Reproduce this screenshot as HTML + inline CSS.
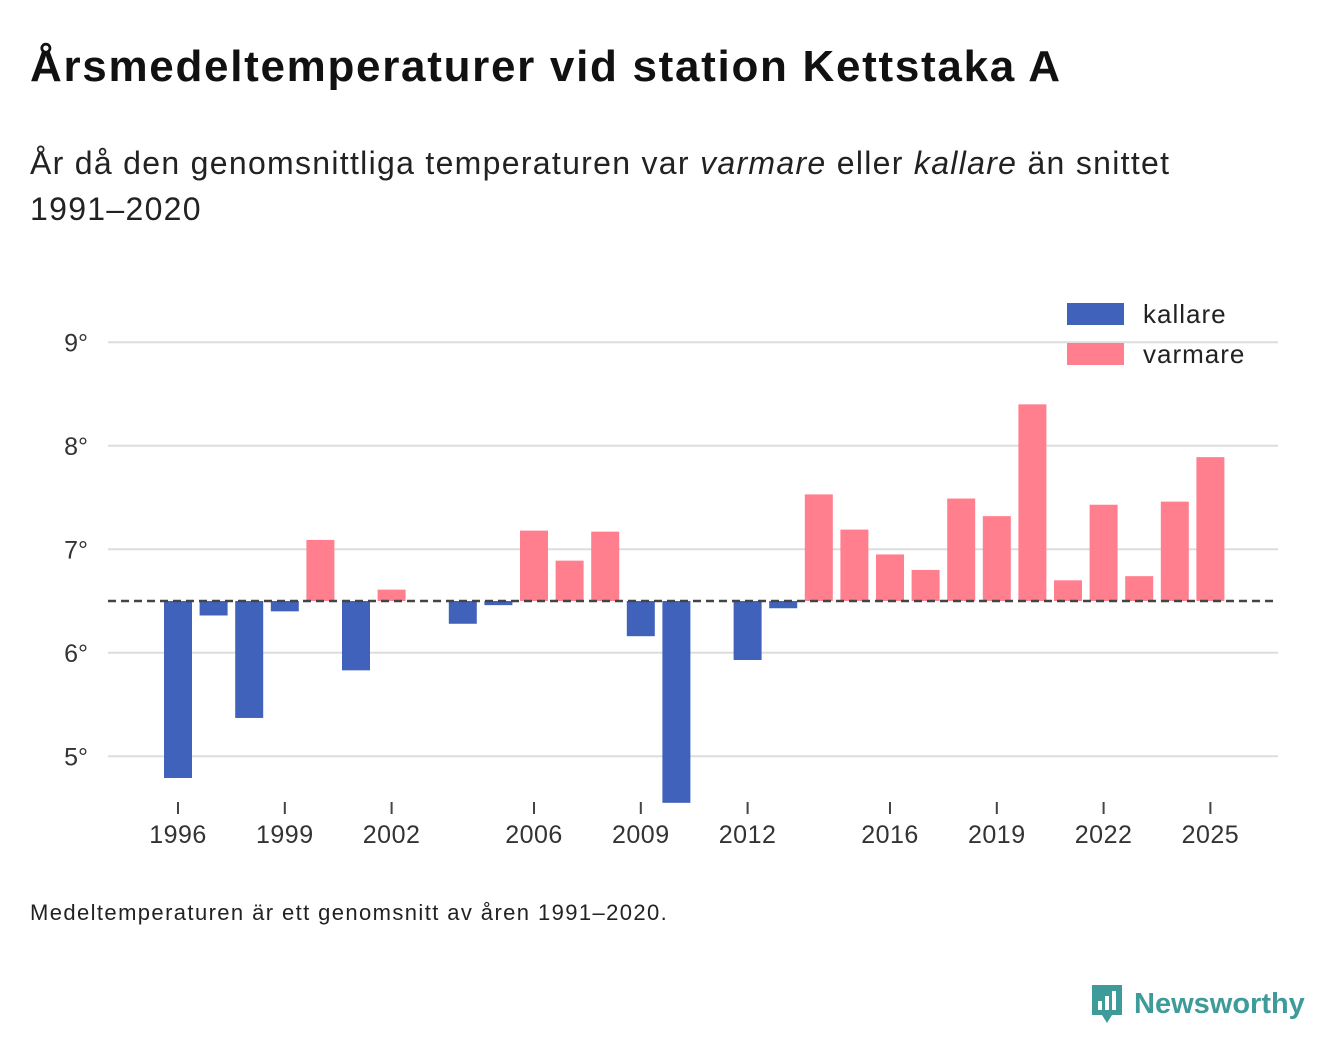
<!DOCTYPE html>
<html><head><meta charset="utf-8">
<style>
body{margin:0;background:#fff;font-family:"Liberation Sans","DejaVu Sans",sans-serif;color:#111;}
#wrap{position:relative;width:1340px;height:1056px;overflow:hidden;}
h1{position:absolute;left:30px;top:42px;margin:0;font-size:44px;letter-spacing:1.7px;font-weight:bold;color:#111;white-space:nowrap;}
.sub{position:absolute;left:30px;top:140px;font-size:32px;letter-spacing:1.3px;line-height:46px;color:#222;width:1200px;}
.note{position:absolute;left:30px;top:900px;font-size:22px;letter-spacing:1.4px;color:#222;white-space:nowrap;}
.logo{position:absolute;left:1090px;top:983px;display:flex;align-items:center;gap:10px;font-size:29px;font-weight:bold;color:#3f9a9a;}
</style></head><body>
<div id="wrap">
<h1>Årsmedeltemperaturer vid station Kettstaka A</h1>
<div class="sub">År då den genomsnittliga temperaturen var <i>varmare</i> eller <i>kallare</i> än snittet<br>1991–2020</div>
<svg id="chart" width="1340" height="1056" style="position:absolute;left:0;top:0"></svg>
<div class="note">Medeltemperaturen är ett genomsnitt av åren 1991–2020.</div>
<div class="logo">
<svg width="34" height="42" viewBox="0 0 34 42"><path d="M2 2h30v30H22l-5 8-5-8H2z" fill="#3f9a9a"/><rect x="8" y="18" width="4" height="9" fill="#fff"/><rect x="15" y="13" width="4" height="14" fill="#fff"/><rect x="22" y="8" width="4" height="19" fill="#fff"/></svg>
<span>Newsworthy</span></div>
</div>
<script>
const years=[1996,1997,1998,1999,2000,2001,2002,2003,2004,2005,2006,2007,2008,2009,2010,2011,2012,2013,2014,2015,2016,2017,2018,2019,2020,2021,2022,2023,2024,2025];
const temps=[4.79,6.36,5.37,6.40,7.09,5.83,6.61,null,6.28,6.46,7.18,6.89,7.17,6.16,4.55,null,5.93,6.43,7.53,7.19,6.95,6.80,7.49,7.32,8.40,6.70,7.43,6.74,7.46,7.89];
const baseline=6.5;
const yTicks=[5,6,7,8,9];
const xTicks=[1996,1999,2002,2006,2009,2012,2016,2019,2022,2025];
const NS="http://www.w3.org/2000/svg";
const svg=document.getElementById('chart');
const y=v=>601-(v-baseline)*103.5;
const x=yr=>178+(yr-1996)*35.6;
function mk(t,a){const e=document.createElementNS(NS,t);for(const k in a)e.setAttribute(k,a[k]);svg.appendChild(e);return e;}
yTicks.forEach(t=>{
 const l=mk('line',{x1:108,x2:1278,y1:y(t),y2:y(t),stroke:'#ddd','stroke-width':2});
 
 
 const tx=mk('text',{x:88,y:y(t)+9,'text-anchor':'end','font-size':25,fill:'#333','font-family':'Liberation Sans, sans-serif'});
 tx.textContent=t+'°';
 
 
});
years.forEach((yr,i)=>{
 const v=temps[i]; if(v==null)return;
 const top=Math.min(y(v),y(baseline)),h=Math.abs(y(v)-y(baseline));
 const r=mk('rect',{x:x(yr)-14,y:top,width:28,height:h,fill:v>=baseline?'#ff7f8e':'#4062bb'});
 
 
});
const bl=mk('line',{x1:108,x2:1278,y1:y(baseline),y2:y(baseline),stroke:'#444','stroke-width':2.5,'stroke-dasharray':'8,5'});


xTicks.forEach(t=>{
 const l=mk('line',{x1:x(t),x2:x(t),y1:802,y2:814,stroke:'#444','stroke-width':2});
 
 
 const tx=mk('text',{x:x(t),y:843,'text-anchor':'middle','font-size':25,'letter-spacing':0.5,fill:'#333','font-family':'Liberation Sans, sans-serif'});
 tx.textContent=t;
 
 
});
[['kallare','#4062bb',314],['varmare','#ff7f8e',354]].forEach(([n,c,cy])=>{
 const r=mk('rect',{x:1067,y:cy-11,width:57,height:22,fill:c});
 
 
 const tx=mk('text',{x:1143,y:cy+9,'font-size':26,'letter-spacing':1,fill:'#222','font-family':'Liberation Sans, sans-serif'});
 tx.textContent=n;
 
 
});
</script>
</body></html>
